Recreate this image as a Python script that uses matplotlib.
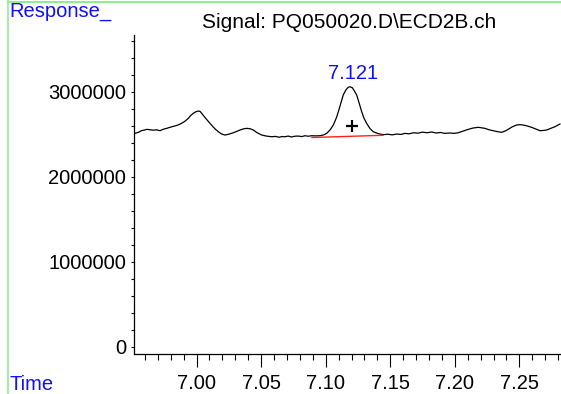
import matplotlib as mpl
import matplotlib.pyplot as plt
from matplotlib.lines import Line2D
from matplotlib.ticker import MultipleLocator, FuncFormatter

mpl.rcParams.update({
    "font.family": ["Liberation Sans", "DejaVu Sans"],
    "font.size": 14.5,
    "figure.facecolor": "white",
    "axes.facecolor": "white",
})

# chromatogram trace (time in min, response)
time = [
    6.9524, 6.9550, 6.9575, 6.9600, 6.9615, 6.9640, 6.9665, 6.9690, 6.9717, 6.9740,
    6.9765, 6.9795, 6.9820, 6.9845, 6.9865, 6.9885, 6.9910, 6.9937, 6.9955, 6.9975,
    6.9995, 7.0014, 7.0028, 7.0040, 7.0060, 7.0082, 7.0104, 7.0125, 7.0147, 7.0169,
    7.0195, 7.0221, 7.0250, 7.0285, 7.0310, 7.0337, 7.0362, 7.0389, 7.0415, 7.0440,
    7.0470, 7.0505, 7.0540, 7.0582, 7.0610, 7.0640, 7.0660, 7.0685, 7.0710, 7.0735,
    7.0760, 7.0788, 7.0815, 7.0840, 7.0865, 7.0892, 7.0920, 7.0956, 7.0985, 7.1008,
    7.1035, 7.1059, 7.1072, 7.1085, 7.1098, 7.1117, 7.1136, 7.1157, 7.1175, 7.1188,
    7.1206, 7.1221, 7.1240, 7.1260, 7.1279, 7.1297, 7.1317, 7.1343, 7.1368, 7.1407,
    7.1445, 7.1480, 7.1515, 7.1550, 7.1585, 7.1614, 7.1645, 7.1680, 7.1714, 7.1750,
    7.1785, 7.1820, 7.1855, 7.1890, 7.1923, 7.1960, 7.1995, 7.2026, 7.2065, 7.2104,
    7.2140, 7.2181, 7.2233, 7.2265, 7.2297, 7.2330, 7.2362, 7.2390, 7.2413, 7.2445,
    7.2478, 7.2505, 7.2529, 7.2560, 7.2594, 7.2625, 7.2659, 7.2685, 7.2710, 7.2740,
    7.2775, 7.2814,
]
response = [
    2508000, 2520000, 2540000, 2548000, 2555000, 2550000, 2545000, 2550000, 2539000, 2555000,
    2565000, 2579000, 2590000, 2600000, 2612000, 2626000, 2650000, 2685000, 2718000, 2744000,
    2762000, 2771000, 2765000, 2744000, 2705000, 2665000, 2626000, 2590000, 2555000, 2527000,
    2500000, 2488000, 2498000, 2515000, 2530000, 2547000, 2560000, 2567000, 2562000, 2547000,
    2515000, 2488000, 2476000, 2468000, 2472000, 2462000, 2470000, 2468000, 2476000, 2465000,
    2474000, 2476000, 2470000, 2480000, 2474000, 2480000, 2478000, 2480000, 2490000, 2508000,
    2550000, 2606000, 2650000, 2700000, 2762000, 2860000, 2959000, 3020000, 3050000, 3056000,
    3045000, 3010000, 2959000, 2860000, 2762000, 2685000, 2626000, 2565000, 2527000, 2505000,
    2492000, 2498000, 2490000, 2500000, 2495000, 2508000, 2502000, 2515000, 2510000, 2522000,
    2515000, 2524000, 2512000, 2518000, 2508000, 2512000, 2508000, 2515000, 2535000, 2555000,
    2570000, 2579000, 2567000, 2550000, 2539000, 2528000, 2520000, 2535000, 2555000, 2585000,
    2606000, 2610000, 2606000, 2595000, 2579000, 2560000, 2539000, 2542000, 2547000, 2565000,
    2586000, 2618000,
]

# integration baseline and peak marker
base_t = [7.0894, 7.1443]
base_r = [2459000, 2485000]
peak_label = "7.121"
peak_t = 7.1201
peak_r = 2594000
label_r = 3215000

fig = plt.figure(figsize=(5.61, 3.94), dpi=100)
ax = fig.add_axes([134 / 561, 40 / 394, 427 / 561, 319 / 394])

ax.plot(time, response, color="black", lw=0.9)
ax.plot(base_t, base_r, color="#FF2020", lw=1.0)
ax.plot([peak_t], [peak_r], marker="+", color="black", ms=9, mew=1.6)
ax.text(peak_t + 0.001, label_r, peak_label, color="#1010FF",
        ha="center", va="center", fontsize=14.5)

ax.set_xlim(6.9516, 7.2822)
ax.set_ylim(-88000, 3665000)

ax.xaxis.set_major_locator(MultipleLocator(0.05))
ax.xaxis.set_minor_locator(MultipleLocator(0.01))
ax.xaxis.set_major_formatter(FuncFormatter(lambda v, p: f"{v:.2f}"))
ax.yaxis.set_major_locator(MultipleLocator(1000000))
ax.yaxis.set_minor_locator(MultipleLocator(200000))
ax.yaxis.set_major_formatter(FuncFormatter(lambda v, p: f"{int(round(v))}"))

ax.tick_params(axis="x", which="major", length=9, width=0.8, pad=5.5, direction="out")
ax.tick_params(axis="x", which="minor", length=4, width=0.8, direction="out")
ax.tick_params(axis="y", which="major", length=2.5, width=0.8, pad=3, direction="out")
ax.tick_params(axis="y", which="minor", length=2, width=0.8, direction="out")

for s in ["top", "right"]:
    ax.spines[s].set_visible(False)
for s in ["left", "bottom"]:
    ax.spines[s].set_linewidth(0.9)

# green frame lines on the left and top
fig.add_artist(Line2D([7.5 / 561, 7.5 / 561], [0, 1], color="#90EE90", lw=1.2,
                      transform=fig.transFigure))
fig.add_artist(Line2D([7.5 / 561, 1], [1 - 1.5 / 394, 1 - 1.5 / 394], color="#90EE90",
                      lw=1.5, transform=fig.transFigure))

fig.text(9 / 561, 1 - 2 / 394, "Response_", color="#1010FF", ha="left", va="top",
         fontsize=14.5)
fig.text(9 / 561, 1 - 385 / 394, "Time", color="#1010FF", ha="left", va="center",
         fontsize=14.5)
fig.text(349 / 561, 1 - 23 / 394, r"Signal: PQ050020.D\ECD2B.ch", color="black",
         ha="center", va="center", fontsize=15)

fig.savefig("out.png", dpi=100)
